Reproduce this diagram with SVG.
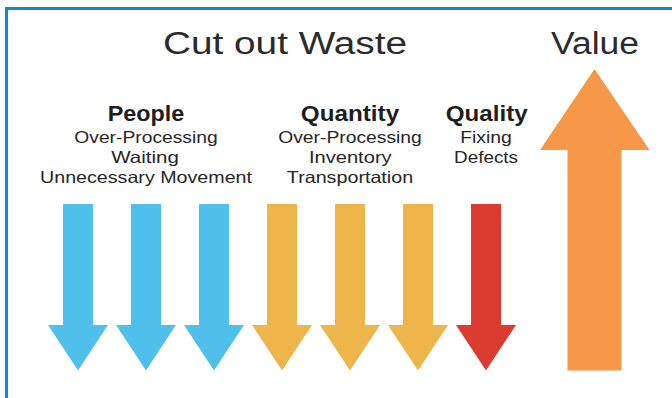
<svg xmlns="http://www.w3.org/2000/svg" width="672" height="398" viewBox="0 0 672 398">
  <defs>
    <style>
      .frame { fill: none; stroke: #1784cc; stroke-width: 3; }
      .title { font-family: "Liberation Sans", Arial, sans-serif; font-size: 31px; fill: #2b2b2b; text-anchor: middle; }
      .head { font-family: "Liberation Sans", Arial, sans-serif; font-size: 21.5px; font-weight: bold; fill: #1e1e1e; text-anchor: middle; }
      .item { font-family: "Liberation Sans", Arial, sans-serif; font-size: 16.5px; fill: #262626; text-anchor: middle; }
      .people { fill: #4fbfeb; }
      .quantity { fill: #edb54a; }
      .quality { fill: #dc3b2f; }
      .value { fill: #f69848; }
    </style>
    <!-- down arrow centred on x=0 -->
    <path id="down" d="M-15,204 H15 V325 H30 L0,370.5 L-30,325 H-15 Z"/>
  </defs>

  <rect width="672" height="398" fill="#ffffff"/>
  <path class="frame" d="M6.5,398 V8.5 H672"/>

  <g id="headings">
    <text class="title" x="285" y="54" textLength="244" lengthAdjust="spacingAndGlyphs">Cut out Waste</text>
    <text class="title" x="595" y="54" textLength="88" lengthAdjust="spacingAndGlyphs">Value</text>
  </g>

  <g id="people">
    <text class="head" x="146" y="121" textLength="76.6" lengthAdjust="spacingAndGlyphs">People</text>
    <text class="item" x="146" y="142.5" textLength="143.4" lengthAdjust="spacingAndGlyphs">Over-Processing</text>
    <text class="item" x="145" y="162.5" textLength="67.7" lengthAdjust="spacingAndGlyphs">Waiting</text>
    <text class="item" x="146" y="183" textLength="212" lengthAdjust="spacingAndGlyphs">Unnecessary Movement</text>
  </g>

  <g id="quantity">
    <text class="head" x="350" y="121" textLength="98.3" lengthAdjust="spacingAndGlyphs">Quantity</text>
    <text class="item" x="350" y="142.5" textLength="143.7" lengthAdjust="spacingAndGlyphs">Over-Processing</text>
    <text class="item" x="350.3" y="162.5" textLength="82.7" lengthAdjust="spacingAndGlyphs">Inventory</text>
    <text class="item" x="350" y="183" textLength="126.3" lengthAdjust="spacingAndGlyphs">Transportation</text>
  </g>

  <g id="quality">
    <text class="head" x="486.7" y="121" textLength="82" lengthAdjust="spacingAndGlyphs">Quality</text>
    <text class="item" x="486" y="142.5" textLength="51.7" lengthAdjust="spacingAndGlyphs">Fixing</text>
    <text class="item" x="486" y="162.5" textLength="64" lengthAdjust="spacingAndGlyphs">Defects</text>
  </g>

  <g id="waste-arrows">
    <use href="#down" class="people" x="78"/>
    <use href="#down" class="people" x="146"/>
    <use href="#down" class="people" x="214"/>
    <use href="#down" class="quantity" x="282"/>
    <use href="#down" class="quantity" x="350"/>
    <use href="#down" class="quantity" x="418"/>
    <use href="#down" class="quality" x="486"/>
  </g>

  <g id="value-arrow">
    <path class="value" d="M594.5,69 L649.5,150 H621.5 V370.5 H567.5 V150 H540 Z"/>
  </g>
</svg>
